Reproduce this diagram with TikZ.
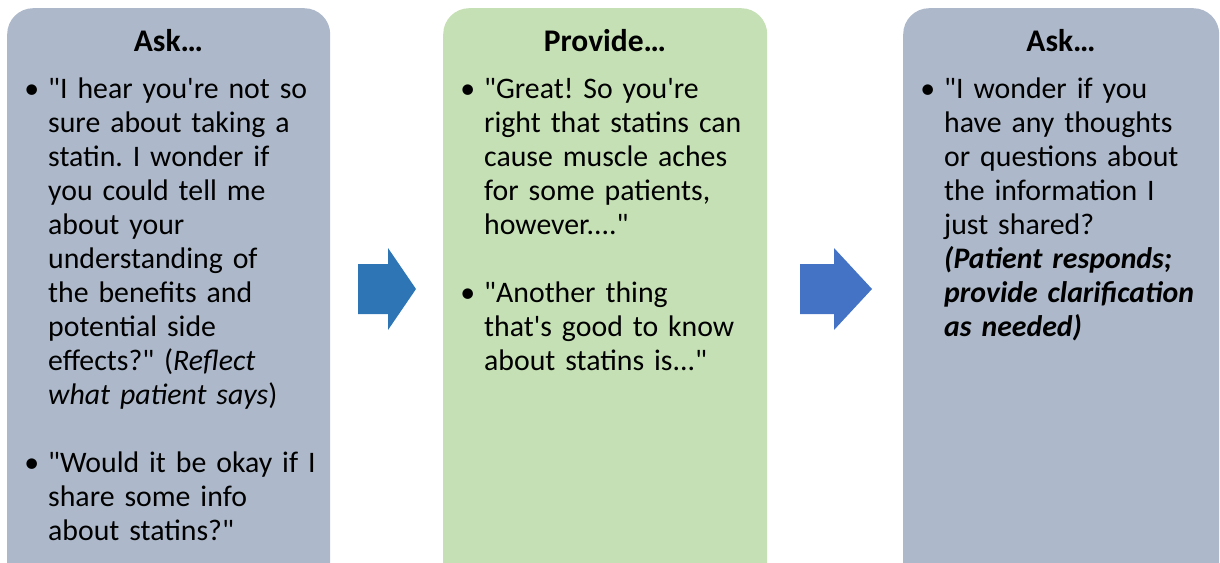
\documentclass[tikz,border=0pt]{standalone}
\usepackage{fontspec}
\newfontfamily\calfont{Carlito}
\definecolor{boxgray}{HTML}{ADB9CA}
\definecolor{boxgreen}{HTML}{C5E0B4}
\definecolor{arrowA}{HTML}{2E75B6}
\definecolor{arrowB}{HTML}{4472C4}
\newcommand\mybullet{\llap{•\hspace{9pt}}}
\frenchspacing
\tikzset{
  panel/.style={rounded corners=26pt, draw=none, minimum width=323pt, minimum height=600pt, anchor=north west, inner sep=0pt},
  title/.style={font=\calfont\bfseries\fontsize{31.5}{34}\selectfont, anchor=base, inner sep=0pt},
  txt/.style={font=\calfont\fontsize{29.8}{34}\selectfont, text width=320pt, align=left, anchor=north west, inner sep=0pt},
  bigarrow/.style={draw=none}
}
\begin{document}
\begin{tikzpicture}[x=1pt,y=-1pt]
\useasboundingbox (0,0) rectangle (1220,562);
\clip (0,0) rectangle (1220,562);
% panels
\node[panel, fill=boxgray] (b1) at (7,8) {};
\node[panel, fill=boxgreen, minimum width=324pt] (b2) at (443,8) {};
\node[panel, fill=boxgray, minimum width=316pt] (b3) at (903,8) {};
% titles
\node[title] (h1) at (168.5,51) {Ask…};
\node[title] (h2) at (605,51) {Provide…};
\node[title] (h3) at (1061,51) {Ask…};
% box 1 text
\node[txt] (t1a) at (48,74.2) {\strut\mybullet"I hear you're not so\\
sure about taking a\\
statin. I wonder if\\
you could tell me\\
about your\\
understanding of\\
the benefits and\\
potential side\\
effects?" (\textit{Reflect}\\
\textit{what patient says})};
\node[txt] (t1b) at (48,448.2) {\strut\mybullet"Would it be okay if I\\
share some info\\
about statins?"};
% box 2 text
\node[txt] (t2a) at (484,74.2) {\strut\mybullet"Great! So you're\\
right that statins can\\
cause muscle aches\\
for some patients,\\
however...."};
\node[txt] (t2b) at (484,278.2) {\strut\mybullet"Another thing\\
that's good to know\\
about statins is..."};
% box 3 text
\node[txt] (t3a) at (944,74.2) {\strut\mybullet"I wonder if you\\
have any thoughts\\
or questions about\\
the information I\\
just shared?\\
\textbf{\textit{(Patient responds;}}\\
\textbf{\textit{provide clarification}}\\
\textbf{\textit{as needed)}}};
% arrows
\fill[arrowA, bigarrow] (358,264) -- (388,264) -- (388,248) -- (416,289) -- (388,330) -- (388,314) -- (358,314) -- cycle;
\fill[arrowB, bigarrow] (800,264) -- (834,264) -- (834,248) -- (872,289) -- (834,330) -- (834,314) -- (800,314) -- cycle;
\end{tikzpicture}
\end{document}
